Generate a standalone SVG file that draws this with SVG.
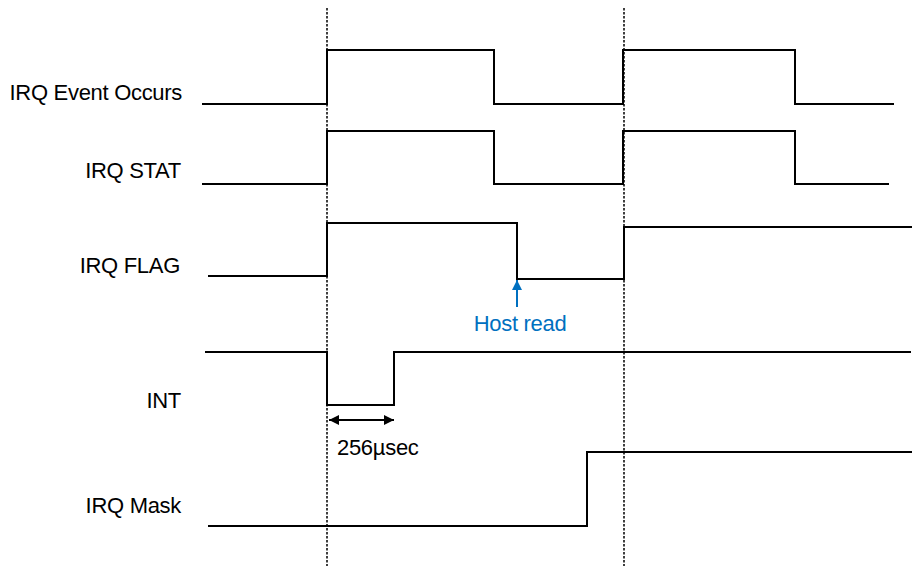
<svg xmlns="http://www.w3.org/2000/svg" width="912" height="566" viewBox="0 0 912 566">
<defs>
<style>
.lbl{font-family:"Liberation Sans",Arial,sans-serif;font-size:22px;letter-spacing:-0.3px;fill:#000;}
.sig{fill:none;stroke:#000;stroke-width:2;stroke-linejoin:miter;}
.grid{fill:none;stroke:#000;stroke-width:1.5;stroke-dasharray:2.5 1.5;}
.note{font-family:"Liberation Sans",Arial,sans-serif;font-size:22px;letter-spacing:-0.3px;fill:#0070C0;}
</style>
<marker id="ah" viewBox="0 0 10 10" refX="10" refY="5" markerWidth="10" markerHeight="10" markerUnits="userSpaceOnUse" orient="auto-start-reverse">
<path d="M0,0 L10,5 L0,10 z" fill="#000"/>
</marker>
<marker id="ahb" viewBox="0 0 10 10" refX="10" refY="5" markerWidth="10" markerHeight="10" markerUnits="userSpaceOnUse" orient="auto">
<path d="M0,0 L10,5 L0,10 z" fill="#0070C0"/>
</marker>
</defs>
<rect width="912" height="566" fill="#fff"/>
<g id="gridlines">
<line class="grid" x1="327" y1="8" x2="327" y2="566"/>
<line class="grid" x1="624" y1="8" x2="624" y2="566"/>
</g>
<g id="irq-event">
<text class="lbl" x="182" y="100" text-anchor="end">IRQ Event Occurs</text>
<polyline class="sig" points="202,104 327,104 327,50 494,50 494,104 623,104 623,50 795,50 795,104 894,104"/>
</g>
<g id="irq-stat">
<text class="lbl" x="181" y="178" text-anchor="end">IRQ STAT</text>
<polyline class="sig" points="202,184 327,184 327,131 494,131 494,184 623,184 623,131 795,131 795,184 889,184"/>
</g>
<g id="irq-flag">
<text class="lbl" x="180" y="273" text-anchor="end">IRQ FLAG</text>
<polyline class="sig" points="208,276 327,276 327,223 517,223 517,279 624,279 624,227 912,227"/>
</g>
<g id="int">
<text class="lbl" x="181" y="408" text-anchor="end">INT</text>
<polyline class="sig" points="205,352 327,352 327,405 394,405 394,352 911,352"/>
</g>
<g id="irq-mask">
<text class="lbl" x="181" y="513" text-anchor="end">IRQ Mask</text>
<polyline class="sig" points="208,526 587,526 587,452 912,452"/>
</g>
<g id="connectors">
<line x1="517" y1="307" x2="517" y2="280" stroke="#0070C0" stroke-width="2" marker-end="url(#ahb)"/>
<line x1="329" y1="420" x2="394" y2="420" stroke="#000" stroke-width="2" marker-start="url(#ah)" marker-end="url(#ah)"/>
</g>
<text class="note" x="520" y="331" text-anchor="middle">Host read</text>
<text class="lbl" x="337" y="455">256µsec</text>
</svg>
